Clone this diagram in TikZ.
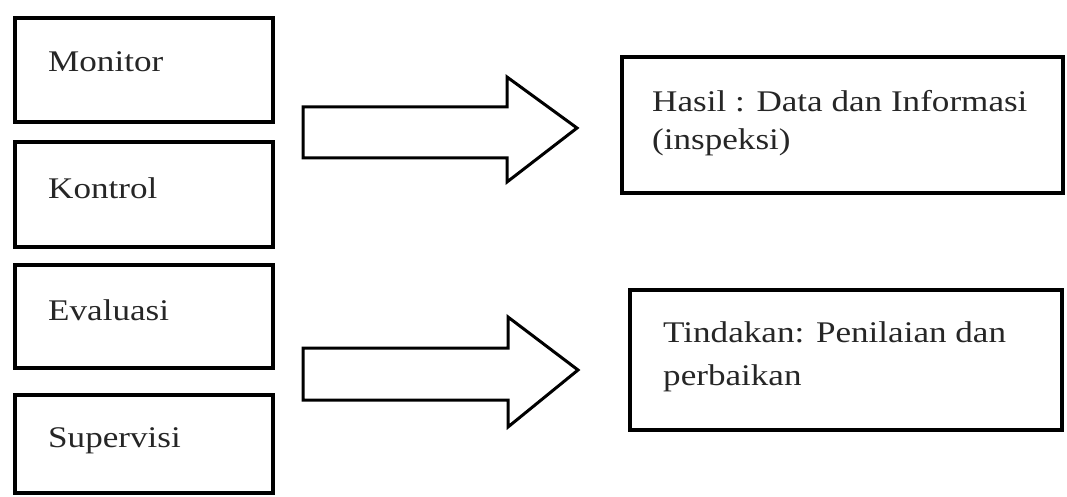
\documentclass[tikz,border=0pt]{standalone}
\usepackage{fontspec}
\setmainfont{Liberation Serif}[FakeStretch=1.17]
\begin{document}
\begin{tikzpicture}[x=1pt,y=-1pt,
  box/.style={draw, line width=3.5pt, inner sep=0pt},
  lbl/.style={anchor=base west, inner sep=0pt, font=\fontsize{30}{38}\selectfont, text=black!85, align=left},
  blockarrow/.style={draw, line width=3pt, line join=miter}]
\useasboundingbox (0,0) rectangle (1067,497);
% left boxes
\node[box, minimum width=258pt, minimum height=104pt] (monitor) at (144,70) {};
\node[box, minimum width=258pt, minimum height=105pt] (kontrol) at (144,194.5) {};
\node[box, minimum width=258pt, minimum height=103pt] (evaluasi) at (144,316.5) {};
\node[box, minimum width=258pt, minimum height=98pt] (supervisi) at (144,444) {};
\node[lbl] (tmonitor) at (48,72) {Monitor};
\node[lbl] (tkontrol) at (48,198) {Kontrol};
\node[lbl] (tevaluasi) at (48,320) {Evaluasi};
\node[lbl] (tsupervisi) at (48,447) {Supervisi};
% right boxes
\node[box, minimum width=441pt, minimum height=136pt] (hasil) at (842.5,125) {};
\node[box, minimum width=432pt, minimum height=140pt] (tindakan) at (846,360) {};
\node[lbl] (thasil) at (652,150) {Hasil : Data dan Informasi\\(inspeksi)};
\node[lbl] (ttindakan) at (663,385) {Tindakan: Penilaian dan\\[5pt]perbaikan};
% block arrows
\draw[blockarrow] (303,107) -- (507,107) -- (507,77) -- (577,128) -- (507,182) -- (507,158) -- (303,158) -- cycle;
\draw[blockarrow] (303,348) -- (508,348) -- (508,317) -- (578,370) -- (508,427) -- (508,400) -- (303,400) -- cycle;
\end{tikzpicture}
\end{document}
